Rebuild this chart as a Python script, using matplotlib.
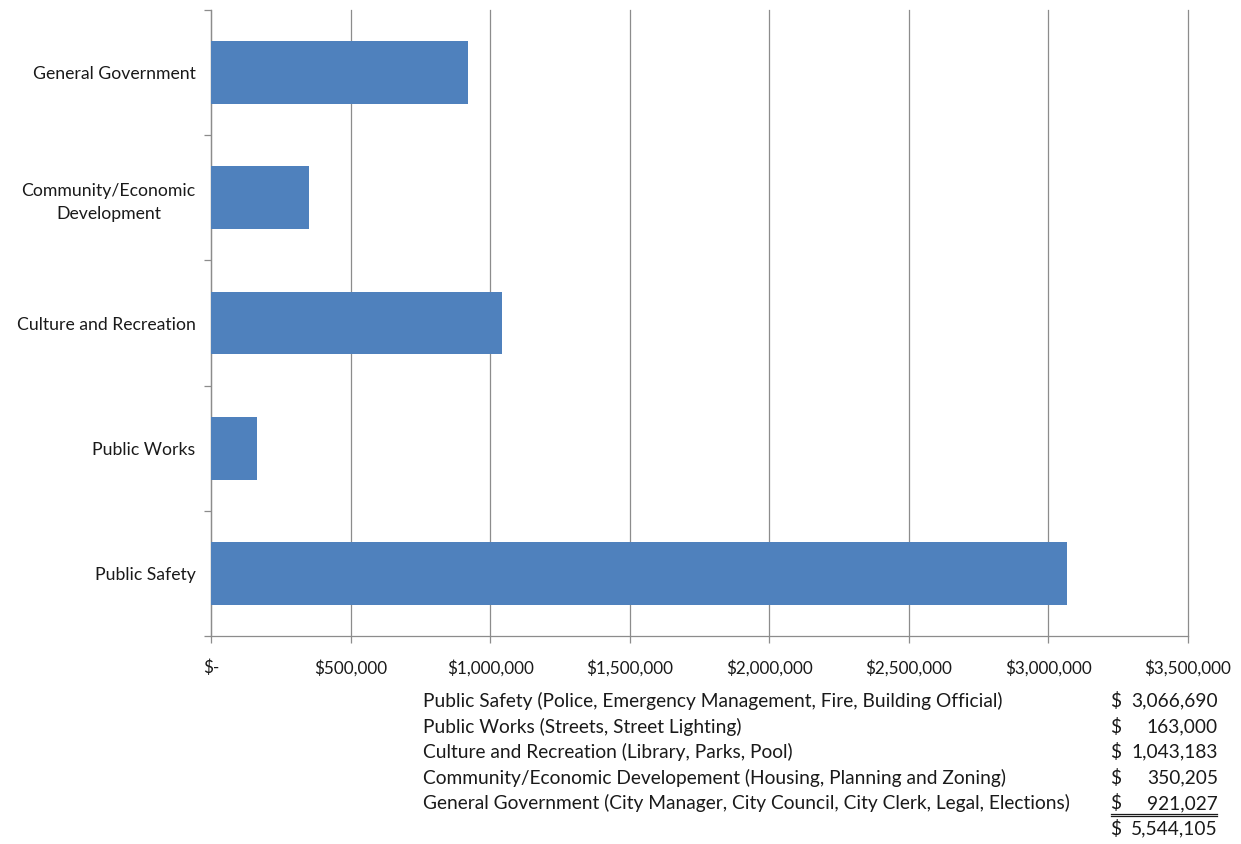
import matplotlib.pyplot as plt
from matplotlib.ticker import FuncFormatter

# datos del gráfico
categorias = ['Public Safety', 'Public Works', 'Culture and Recreation',
              'Community/Economic\nDevelopment', 'General Government']
montos = [3066690, 163000, 1043183, 350205, 921027]

descripciones = [
    'Public Safety (Police, Emergency Management, Fire, Building Official)',
    'Public Works (Streets, Street Lighting)',
    'Culture and Recreation (Library, Parks, Pool)',
    'Community/Economic Developement (Housing, Planning and Zoning)',
    'General Government (City Manager, City Council, City Clerk, Legal, Elections)',
]
total = 5544105

plt.rcParams['font.family'] = ['Lato', 'DejaVu Sans']

fig = plt.figure(figsize=(12.41, 8.44), dpi=100)
ax = fig.add_axes([211 / 1241, 1 - 636 / 844, (1188 - 211) / 1241, (636 - 10) / 844])

pos = list(range(len(categorias)))
ax.barh(pos, montos, height=0.5, color='#4f81bd', zorder=3)

ax.set_xlim(0, 3500000)
ax.set_ylim(-0.5, len(categorias) - 0.5)
ax.set_xticks(range(0, 3500001, 500000))
ax.xaxis.set_major_formatter(FuncFormatter(lambda v, p: '$-' if v == 0 else f'${v:,.0f}'))
ax.set_yticks(pos)
ax.set_yticklabels(categorias, ha='right', multialignment='center', linespacing=1.5)
ax.set_yticks([p - 0.5 for p in pos] + [len(categorias) - 0.5], minor=True)

ax.grid(axis='x', color='#8c8c8c', linewidth=0.9, zorder=0)
for gl in ax.get_xgridlines():
    gl.set_clip_on(False)
for s in ['top', 'right']:
    ax.spines[s].set_visible(False)
for s in ['left', 'bottom']:
    ax.spines[s].set_color('#8c8c8c')
    ax.spines[s].set_linewidth(0.9)

ax.tick_params(axis='y', which='major', length=0, pad=11, labelsize=12.7, labelcolor='#1a1a1a')
ax.tick_params(axis='y', which='minor', length=5, color='#8c8c8c', width=0.9)
ax.tick_params(axis='x', length=5, color='#8c8c8c', width=0.9, labelsize=12.3,
               labelcolor='#1a1a1a', pad=12)

# tabla de montos debajo
y0 = 701
paso = 25.6
for i, (d, m) in enumerate(zip(descripciones, montos)):
    y = 1 - (y0 + i * paso) / 844
    fig.text(423 / 1241, y, d, fontsize=13.8, va='center', ha='left', color='#1a1a1a')
    fig.text(1110 / 1241, y, '$', fontsize=13.8, va='center', ha='left', color='#1a1a1a')
    fig.text(1218 / 1241, y, f'{m:,.0f}', fontsize=13.8, va='center', ha='right', color='#1a1a1a')

y = 1 - (y0 + 5 * paso) / 844
fig.text(1110 / 1241, y, '$', fontsize=13.8, va='center', ha='left', color='#1a1a1a')
fig.text(1218 / 1241, y, f'{total:,.0f}', fontsize=13.8, va='center', ha='right', color='#1a1a1a')
for yl in (813.5, 816):
    fig.add_artist(plt.Line2D([1111 / 1241, 1217 / 1241], [1 - yl / 844, 1 - yl / 844],
                              color='#1a1a1a', linewidth=0.9))

fig.savefig('out.png', dpi=100, facecolor='white')
